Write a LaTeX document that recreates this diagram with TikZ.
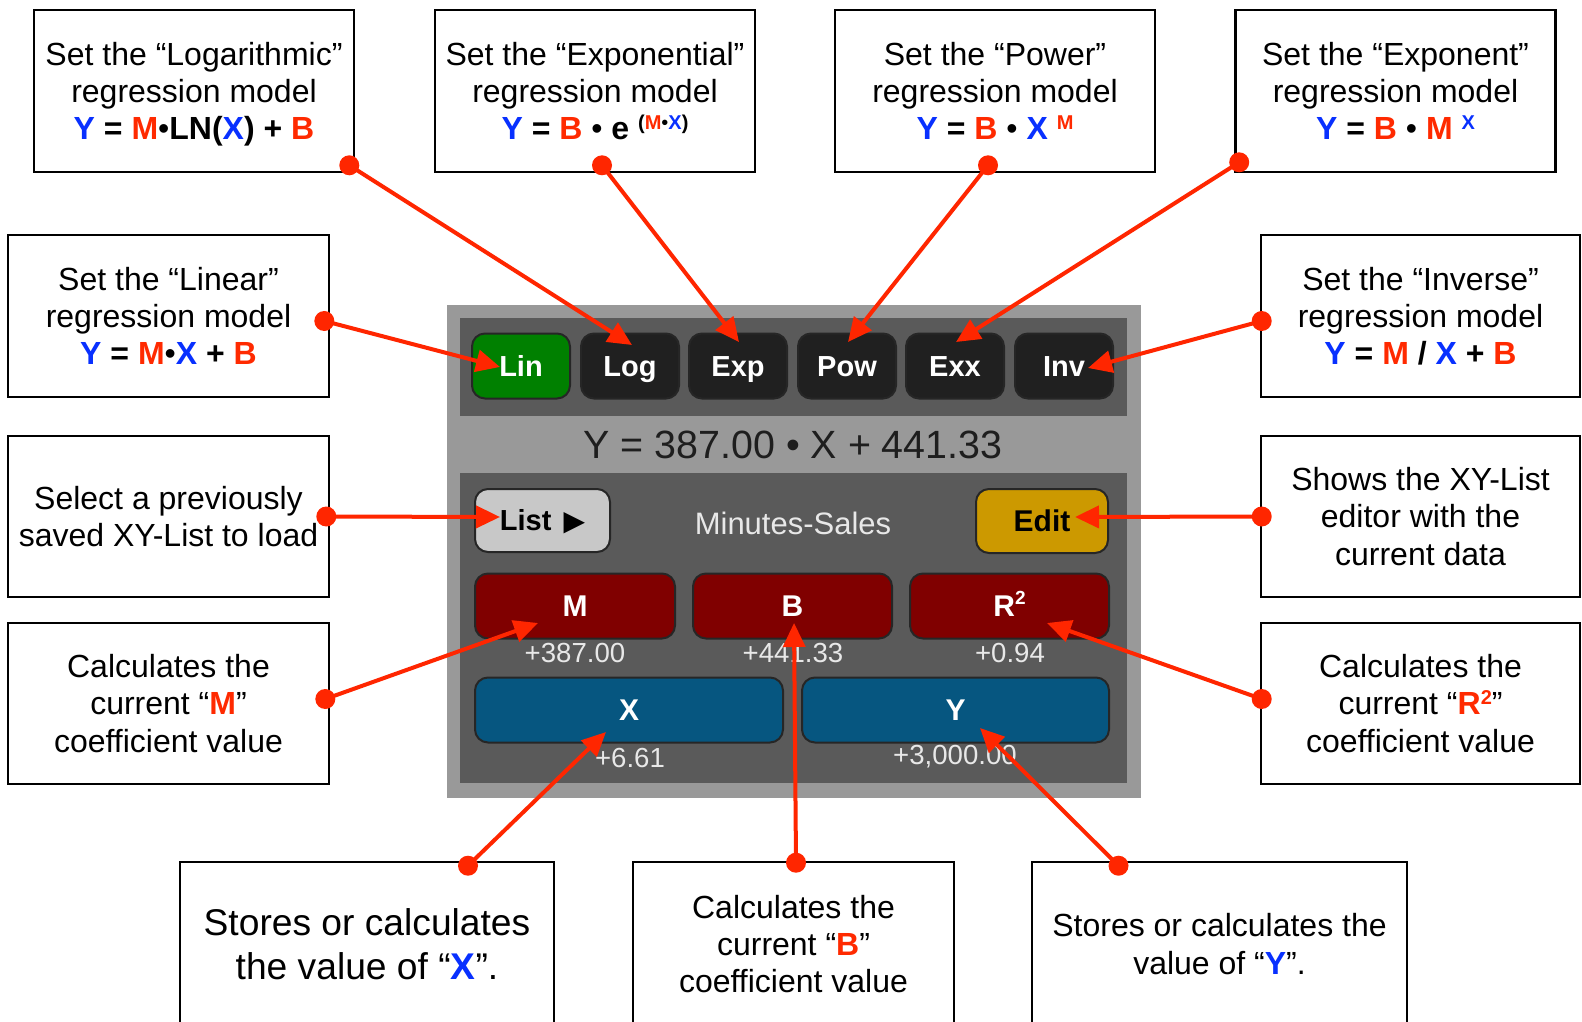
\documentclass[tikz,border=0pt]{standalone}
\usepackage{fontspec}
\setmainfont{Liberation Sans}
\newfontfamily\glyphfont{DejaVu Sans}
\usetikzlibrary{arrows.meta}

\definecolor{callred}{RGB}{255,38,0}
\definecolor{fblue}{RGB}{8,48,255}
\definecolor{fred}{RGB}{255,42,0}
\definecolor{panelgray}{RGB}{153,153,153}
\definecolor{paneldark}{RGB}{90,90,90}
\definecolor{keyblack}{RGB}{32,32,32}
\definecolor{keygreen}{RGB}{0,128,0}
\definecolor{keyred}{RGB}{128,0,0}
\definecolor{keyblue}{RGB}{6,86,128}
\definecolor{keygold}{RGB}{204,153,0}
\definecolor{keylight}{RGB}{200,200,200}
\definecolor{valtext}{RGB}{232,232,232}
\definecolor{eqtext}{RGB}{30,30,30}

% coloured formula variables
\newcommand{\vY}{\textcolor{fblue}{Y}}
\newcommand{\vX}{\textcolor{fblue}{X}}
\newcommand{\vM}{\textcolor{fred}{M}}
\newcommand{\vB}{\textcolor{fred}{B}}
\newcommand{\raisedsmall}[1]{\raisebox{5.2pt}{\fontsize{10}{10}\selectfont #1}}
\newcommand{\mdot}{{\mdseries•}}

\tikzset{
  infobox/.style={draw=black, line width=1.3pt, fill=white, align=center,
    inner sep=0pt, font=\fontsize{16}{18.6}\selectfont},
  topbox/.style={infobox, minimum width=160pt, minimum height=81pt},
  sidebox/.style={infobox, minimum width=160pt, minimum height=81pt},
  lowbox/.style={infobox, minimum height=82pt},
  keycap/.style={draw=black!85, line width=1pt, rounded corners=6.5pt, inner sep=0pt,
    minimum height=32.5pt, font=\fontsize{15}{15}\selectfont\bfseries, text=white,
    text height=10.6pt, text depth=0pt},
  modekey/.style={keycap, fill=keyblack, minimum width=49pt,
    font=\fontsize{14.5}{14.5}\selectfont\bfseries, text height=10.4pt},
  valuetext/.style={text=valtext, font=\fontsize{13.8}{14}\selectfont, inner sep=0pt},
  callout/.style={draw=callred, line width=2pt, -{Triangle[length=12pt,width=11pt]}},
}

\begin{document}
\begin{tikzpicture}[x=0.5pt,y=-0.5pt]
\useasboundingbox (0,0) rectangle (1582,1021);
\clip (0,0) rectangle (1582,1021);
\fill[white] (0,0) rectangle (1582,1021);

% ---- description boxes: top row
\node[topbox] (boxLog) at (194,91)
  {Set the “Logarithmic”\\regression model\\\smash{\bfseries\vY{} = \vM\mdot LN(\vX) + \vB}};
\node[topbox] (boxExp) at (595,91)
  {Set the “Exponential”\\regression model\\{\bfseries\vY{} = \vB{} \mdot{} e \raisedsmall{(\vM\mdot\vX)}}};
\node[topbox] (boxPow) at (995,91)
  {Set the “Power”\\regression model\\{\bfseries\vY{} = \vB{} \mdot{} \vX{} \raisedsmall{\vM}}};
\node[topbox] (boxExx) at (1395.5,91)
  {Set the “Exponent”\\regression model\\{\bfseries\vY{} = \vB{} \mdot{} \vM{} \raisedsmall{\vX}}};

% ---- left column
\node[sidebox, minimum width=160.5pt] (boxLin) at (168.5,316)
  {Set the “Linear”\\regression model\\{\bfseries\vY{} = \vM\mdot\vX{} + \vB}};
\node[sidebox, minimum width=160.5pt, minimum height=80.5pt] (boxList) at (168.5,516.5)
  {Select a previously\\saved XY-List to load};
\node[sidebox, minimum width=160.5pt, minimum height=80.5pt] (boxM) at (168.5,703.5)
  {Calculates the\\current “{\bfseries\vM}”\\coefficient value};

% ---- right column
\node[sidebox, minimum width=159.5pt] (boxInv) at (1420.5,316)
  {Set the “Inverse”\\regression model\\{\bfseries\vY{} = \vM{} / \vX{} + \vB}};
\node[sidebox, minimum width=159.5pt, minimum height=80.5pt] (boxEdit) at (1420.5,516.5)
  {Shows the XY-List\\editor with the\\current data};
\node[sidebox, minimum width=159.5pt, minimum height=80.5pt] (boxR) at (1420.5,703.5)
  {Calculates the\\current “{\bfseries\textcolor{fred}{R\raisedsmall{2}}}”\\coefficient value};

% ---- bottom row
\node[lowbox, minimum width=187pt, font=\fontsize{18.6}{22.2}\selectfont] (boxX) at (367,944)
  {Stores or calculates\\the value of “{\bfseries\vX}”.};
\node[lowbox, minimum width=160.5pt] (boxB) at (793.5,944)
  {Calculates the\\current “{\bfseries\vB}”\\coefficient value};
\node[lowbox, minimum width=187.5pt] (boxY) at (1219.5,944)
  {Stores or calculates the\\value of “{\bfseries\vY}”.};

% ---- calculator panel
\fill[panelgray] (447,305) rectangle (1141,798);
\fill[paneldark] (460,318) rectangle (1127,416);
\fill[paneldark] (460,473) rectangle (1127,783);

% regression model keys
\node[modekey, fill=keygreen] (keyLin) at (521,366) {Lin};
\node[modekey] (keyLog) at (630,366) {Log};
\node[modekey] (keyExp) at (738,366) {Exp};
\node[modekey] (keyPow) at (847,366) {Pow};
\node[modekey] (keyExx) at (955,366) {Exx};
\node[modekey] (keyInv) at (1064,366) {Inv};

\node[font=\fontsize{19.7}{20}\selectfont, text=eqtext, inner sep=0pt] (eqn) at (793,445)
  {Y = 387.00 • X + 441.33};

% list row
\node[keycap, fill=keylight, text=black, minimum width=67.5pt, minimum height=31.5pt,
  font=\fontsize{14.5}{14.5}\selectfont\bfseries, text height=10.4pt] (keyList) at (542.5,520.5)
  {List\hspace{6pt}{\glyphfont\fontsize{14}{14}\selectfont ▶}};
\node[text=valtext, font=\fontsize{15.5}{16}\selectfont, inner sep=0pt] (listname) at (793,523)
  {Minutes-Sales};
\node[keycap, fill=keygold, text=black, minimum width=66pt, minimum height=32pt] (keyEdit)
  at (1042,521) {Edit};

% coefficient keys
\node[keycap, fill=keyred, minimum width=100pt] (keyM) at (575,606) {M};
\node[keycap, fill=keyred, minimum width=99.5pt] (keyB) at (792.5,606) {B};
\node[keycap, fill=keyred, minimum width=99.5pt] (keyR) at (1009.5,606)
  {R\raisebox{6pt}{\fontsize{9.5}{9.5}\selectfont 2}};
\node[valuetext] (valM) at (575,653) {+387.00};
\node[valuetext] (valB) at (793,653) {+441.33};
\node[valuetext] (valR) at (1010,653) {+0.94};

% variable keys
\node[keycap, fill=keyblue, minimum width=154pt] (keyX) at (629,710) {X};
\node[keycap, fill=keyblue, minimum width=153.5pt] (keyY) at (955.5,710) {Y};
\node[valuetext] (valX) at (630,758) {+6.61};
\node[valuetext] (valY) at (955,757) {+3,000.00};

% ---- callout ends
\coordinate (dLin)  at ([shift={(-6,5)}]boxLin.east);
\coordinate (dLog)  at ([shift={(-6,-8)}]boxLog.south east);
\coordinate (dExp)  at ([shift={(7,-8)}]boxExp.south);
\coordinate (dPow)  at ([shift={(-7,-8)}]boxPow.south);
\coordinate (dExx)  at ([shift={(5,-11)}]boxExx.south west);
\coordinate (dInv)  at ([shift={(2,5)}]boxInv.west);
\coordinate (dList) at ([shift={(-4,0)}]boxList.east);
\coordinate (dEdit) at ([shift={(2,0)}]boxEdit.west);
\coordinate (dM)    at ([shift={(-5,-4.5)}]boxM.east);
\coordinate (dR)    at ([shift={(2,-4.5)}]boxR.west);
\coordinate (dX)    at ([shift={(101,5)}]boxX.north);
\coordinate (dB)    at ([shift={(2.5,2)}]boxB.north);
\coordinate (dY)    at ([shift={(-101,5)}]boxY.north);

\coordinate (tLin)  at ([shift={(-21,1)}]keyLin.center);
\coordinate (tLog)  at ([shift={(2,-21)}]keyLog.center);
\coordinate (tExp)  at ([shift={(1,-24)}]keyExp.center);
\coordinate (tPow)  at ([shift={(1,-24)}]keyPow.center);
\coordinate (tExx)  at ([shift={(1,-24)}]keyExx.center);
\coordinate (tInv)  at ([shift={(24,2)}]keyInv.center);
\coordinate (tList) at ([shift={(-42.5,-3.5)}]keyList.center);
\coordinate (tEdit) at ([shift={(33,-4)}]keyEdit.center);
\coordinate (tM)    at ([shift={(-37,17)}]keyM.center);
\coordinate (tB)    at ([shift={(1.5,17)}]keyB.center);
\coordinate (tR)    at ([shift={(37.5,17)}]keyR.center);
\coordinate (tX)    at ([shift={(-23,22)}]keyX.center);
\coordinate (tY)    at ([shift={(24.5,18)}]keyY.center);

\foreach \src/\dst in {dLin/tLin, dLog/tLog, dExp/tExp, dPow/tPow, dExx/tExx, dInv/tInv,
                       dList/tList, dEdit/tEdit, dM/tM, dR/tR, dX/tX, dB/tB, dY/tY} {
  \draw[callout] (\src) -- (\dst);
  \fill[callred] (\src) circle[radius=5pt];
}
\end{tikzpicture}
\end{document}
